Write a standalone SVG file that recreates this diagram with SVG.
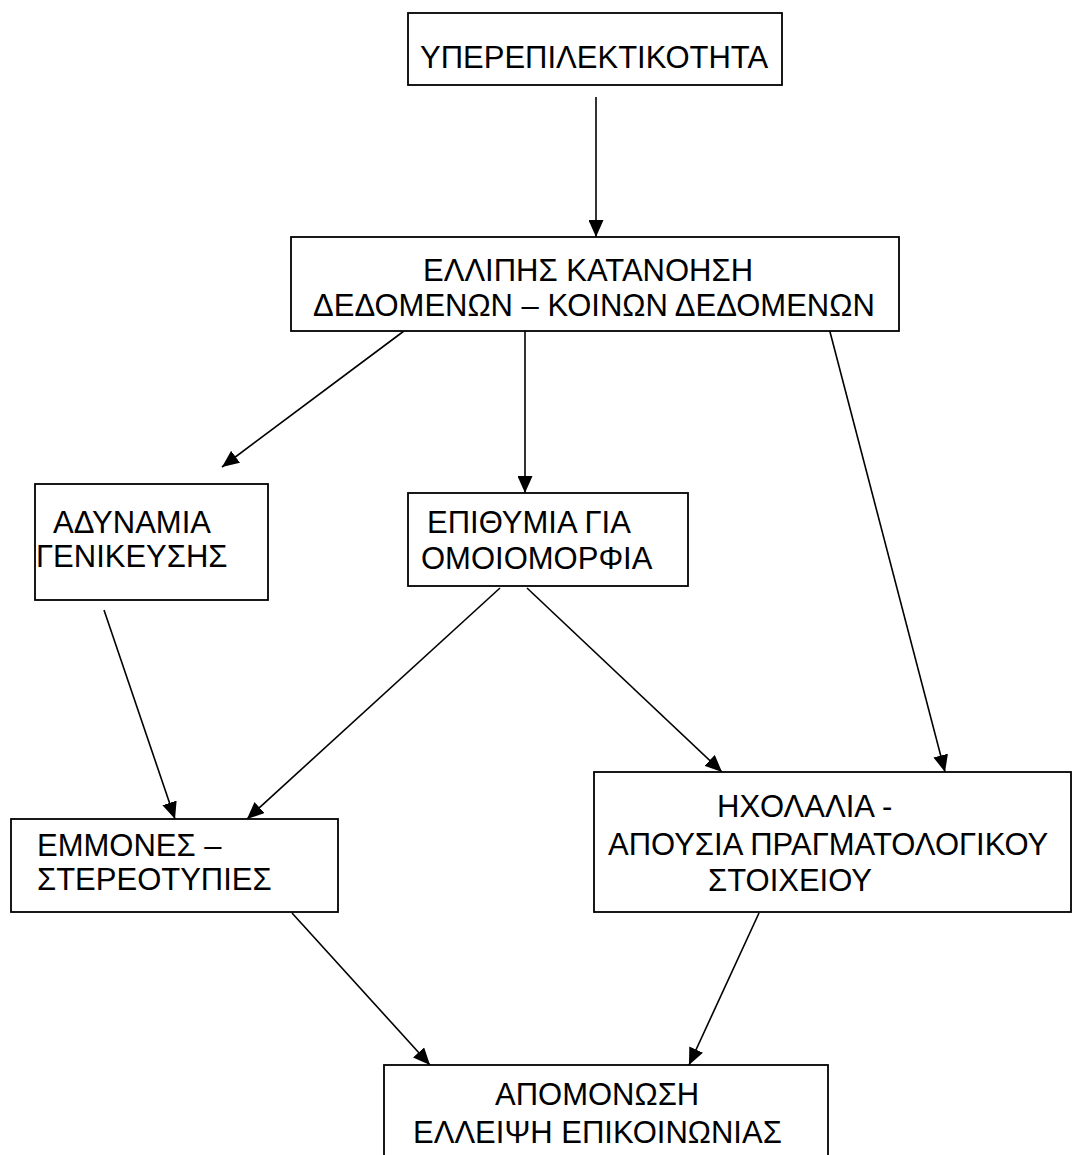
<svg xmlns="http://www.w3.org/2000/svg" width="1073" height="1155" viewBox="0 0 1073 1155">
<style>
.box{fill:#fff;stroke:#000;stroke-width:1.8}
.t{font-family:"Liberation Sans",Arial,sans-serif;font-size:31px;fill:#000}
.c{stroke:#000;stroke-width:1.6;fill:none;marker-end:url(#ah)}
</style>
<defs>
<marker id="ah" viewBox="0 0 17 15" refX="17" refY="7.5" markerWidth="17" markerHeight="15" markerUnits="userSpaceOnUse" orient="auto">
<path d="M0,0 L17,7.5 L0,15 z" fill="#000"/>
</marker>
</defs>
<rect width="1073" height="1155" fill="#fff"/>
<g id="connectors">
<line class="c" x1="596" y1="97" x2="596" y2="237"/>
<line class="c" x1="408" y1="328" x2="222" y2="467"/>
<line class="c" x1="525" y1="328" x2="525" y2="493"/>
<line class="c" x1="829" y1="328" x2="945" y2="772"/>
<line class="c" x1="104" y1="610" x2="175" y2="819"/>
<line class="c" x1="500" y1="588" x2="247" y2="819"/>
<line class="c" x1="527" y1="588" x2="722" y2="772"/>
<line class="c" x1="292" y1="913" x2="430" y2="1065"/>
<line class="c" x1="759" y1="913" x2="689" y2="1065"/>
</g>
<g id="n1">
<rect class="box" x="408" y="13" width="374" height="72"/>
<text class="t" x="420" y="68">ΥΠΕΡΕΠΙΛΕΚΤΙΚΟΤΗΤΑ</text>
</g>
<g id="n2">
<rect class="box" x="291" y="237" width="608" height="94"/>
<text class="t" x="423" y="281">ΕΛΛΙΠΗΣ ΚΑΤΑΝΟΗΣΗ</text>
<text class="t" x="313" y="316">ΔΕΔΟΜΕΝΩΝ – ΚΟΙΝΩΝ ΔΕΔΟΜΕΝΩΝ</text>
</g>
<g id="n3">
<rect class="box" x="35" y="484" width="233" height="116"/>
<text class="t" x="53" y="533">ΑΔΥΝΑΜΙΑ</text>
<text class="t" x="36" y="567">ΓΕΝΙΚΕΥΣΗΣ</text>
</g>
<g id="n4">
<rect class="box" x="408" y="493" width="280" height="93"/>
<text class="t" x="427" y="533">ΕΠΙΘΥΜΙΑ ΓΙΑ</text>
<text class="t" x="421" y="569">ΟΜΟΙΟΜΟΡΦΙΑ</text>
</g>
<g id="n5">
<rect class="box" x="11" y="819" width="327" height="93"/>
<text class="t" x="37" y="856">ΕΜΜΟΝΕΣ –</text>
<text class="t" x="37" y="890">ΣΤΕΡΕΟΤΥΠΙΕΣ</text>
</g>
<g id="n6">
<rect class="box" x="594" y="772" width="477" height="140"/>
<text class="t" x="717" y="817">ΗΧΟΛΑΛΙΑ -</text>
<text class="t" x="608" y="855">ΑΠΟΥΣΙΑ ΠΡΑΓΜΑΤΟΛΟΓΙΚΟΥ</text>
<text class="t" x="708" y="891">ΣΤΟΙΧΕΙΟΥ</text>
</g>
<g id="n7">
<rect class="box" x="384" y="1065" width="444" height="100"/>
<text class="t" x="495" y="1105">ΑΠΟΜΟΝΩΣΗ</text>
<text class="t" x="413" y="1143">ΕΛΛΕΙΨΗ ΕΠΙΚΟΙΝΩΝΙΑΣ</text>
</g>
</svg>
